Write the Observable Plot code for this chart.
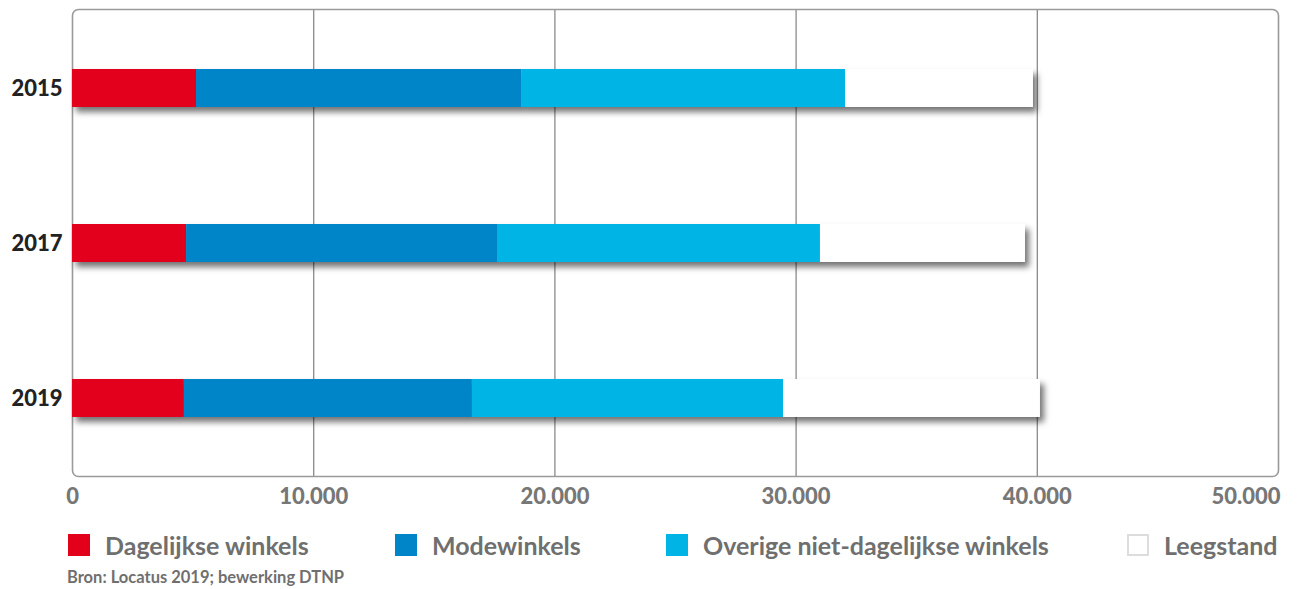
<!DOCTYPE html>
<html>
<head>
<meta charset="utf-8">
<script src="https://cdn.jsdelivr.net/npm/d3@7"></script>
<script src="https://cdn.jsdelivr.net/npm/@observablehq/plot@0.6"></script>
<style>
  html, body { margin: 0; padding: 0; background: #fff; }
  body { width: 1301px; height: 589px; position: relative; overflow: hidden; font-family: Lato, "Open Sans", sans-serif; }
  #chart { position: absolute; left: 0; top: 0; }
  .legend { position: absolute; top: 528px; left: 0; width: 1301px; height: 34px; }
  .item { position: absolute; top: 0; display: flex; align-items: center; height: 34px; color: #6f6f6f; font-weight: 700; font-size: 25px; }
  .sw { width: 22px; height: 22px; margin-right: 15px; box-sizing: border-box; }
  .source { position: absolute; left: 67px; top: 567px; color: #6f6f6f; font-weight: 700; font-size: 16.5px; }
</style>
</head>
<body>
<div id="chart"></div>
<div class="legend" id="legend"></div>
<div class="source">Bron: Locatus 2019; bewerking DTNP</div>
<script>
const years = ["2015", "2017", "2019"];
const categories = ["Dagelijkse winkels", "Modewinkels", "Overige niet-dagelijkse winkels", "Leegstand"];
const dagelijkse = [5140, 4730, 4640];
const mode = [13480, 12890, 11940];
const overige = [13430, 13390, 12900];
const leegstand = [7790, 8500, 10650];
const tickValues = [0, 10000, 20000, 30000, 40000, 50000];
const tickLabels = ["0", "10.000", "20.000", "30.000", "40.000", "50.000"];
const colors = ["#e2001a", "#0085c8", "#00b4e6", "#ffffff"];

const series = [dagelijkse, mode, overige, leegstand];
const data = [];
years.forEach((y, i) => {
  categories.forEach((c, j) => data.push({year: y, cat: c, value: series[j][i]}));
});
const ticks = tickValues.map((v, i) => ({v, label: tickLabels[i]}));

const plot = Plot.plot({
  width: 1301,
  height: 515,
  marginLeft: 72,
  marginRight: 23,
  marginTop: 9,
  marginBottom: 39,
  style: {background: "transparent", fontFamily: "Lato, 'Open Sans', sans-serif"},
  x: {domain: [0, 50000], axis: null},
  y: {domain: years, paddingInner: 0.756, paddingOuter: 0.375, axis: null},
  color: {domain: categories, range: colors},
  marks: [
    Plot.ruleX(tickValues.slice(1, -1), {stroke: "#8a8a8a", strokeWidth: 1.3, strokeOpacity: 1}),
    Plot.frame({stroke: "#9a9a9a", strokeWidth: 1.6, rx: 6}),
    Plot.barX(data, {x: "value", y: "year", fill: "cat", order: categories, className: "bars"}),
    Plot.axisY({tickSize: 0, tickPadding: 10, fontSize: 22, fontWeight: 900, fill: "#222", label: null}),
    Plot.text(ticks.slice(0, -1), {x: "v", text: "label", frameAnchor: "bottom", dy: 20, fontSize: 22, fontWeight: 900, fill: "#777", lineAnchor: "middle"}),
    Plot.text(ticks.slice(-1), {x: "v", text: "label", frameAnchor: "bottom", dy: 20, dx: 2, textAnchor: "end", fontSize: 22, fontWeight: 900, fill: "#777", lineAnchor: "middle"})
  ]
});
document.getElementById("chart").appendChild(plot);

// drop shadow on the bars
const svg = d3.select(plot);
const defs = svg.insert("defs", ":first-child");
const f = defs.append("filter").attr("id", "shadow").attr("x", "-5%").attr("y", "-30%").attr("width", "115%").attr("height", "180%");
f.append("feDropShadow").attr("dx", 4).attr("dy", 5).attr("stdDeviation", 3).attr("flood-color", "#000").attr("flood-opacity", 0.55);
svg.selectAll("g.bars").attr("filter", "url(#shadow)");

// legend
const legendPos = [68, 395, 666, 1127];
const legend = document.getElementById("legend");
categories.forEach((c, i) => {
  const it = document.createElement("div");
  it.className = "item";
  it.style.left = legendPos[i] + "px";
  const sw = document.createElement("div");
  sw.className = "sw";
  sw.style.background = colors[i];
  if (colors[i] === "#ffffff") sw.style.border = "2px solid #ddd";
  it.appendChild(sw);
  const t = document.createElement("span");
  t.textContent = c;
  it.appendChild(t);
  legend.appendChild(it);
});
</script>
</body>
</html>
